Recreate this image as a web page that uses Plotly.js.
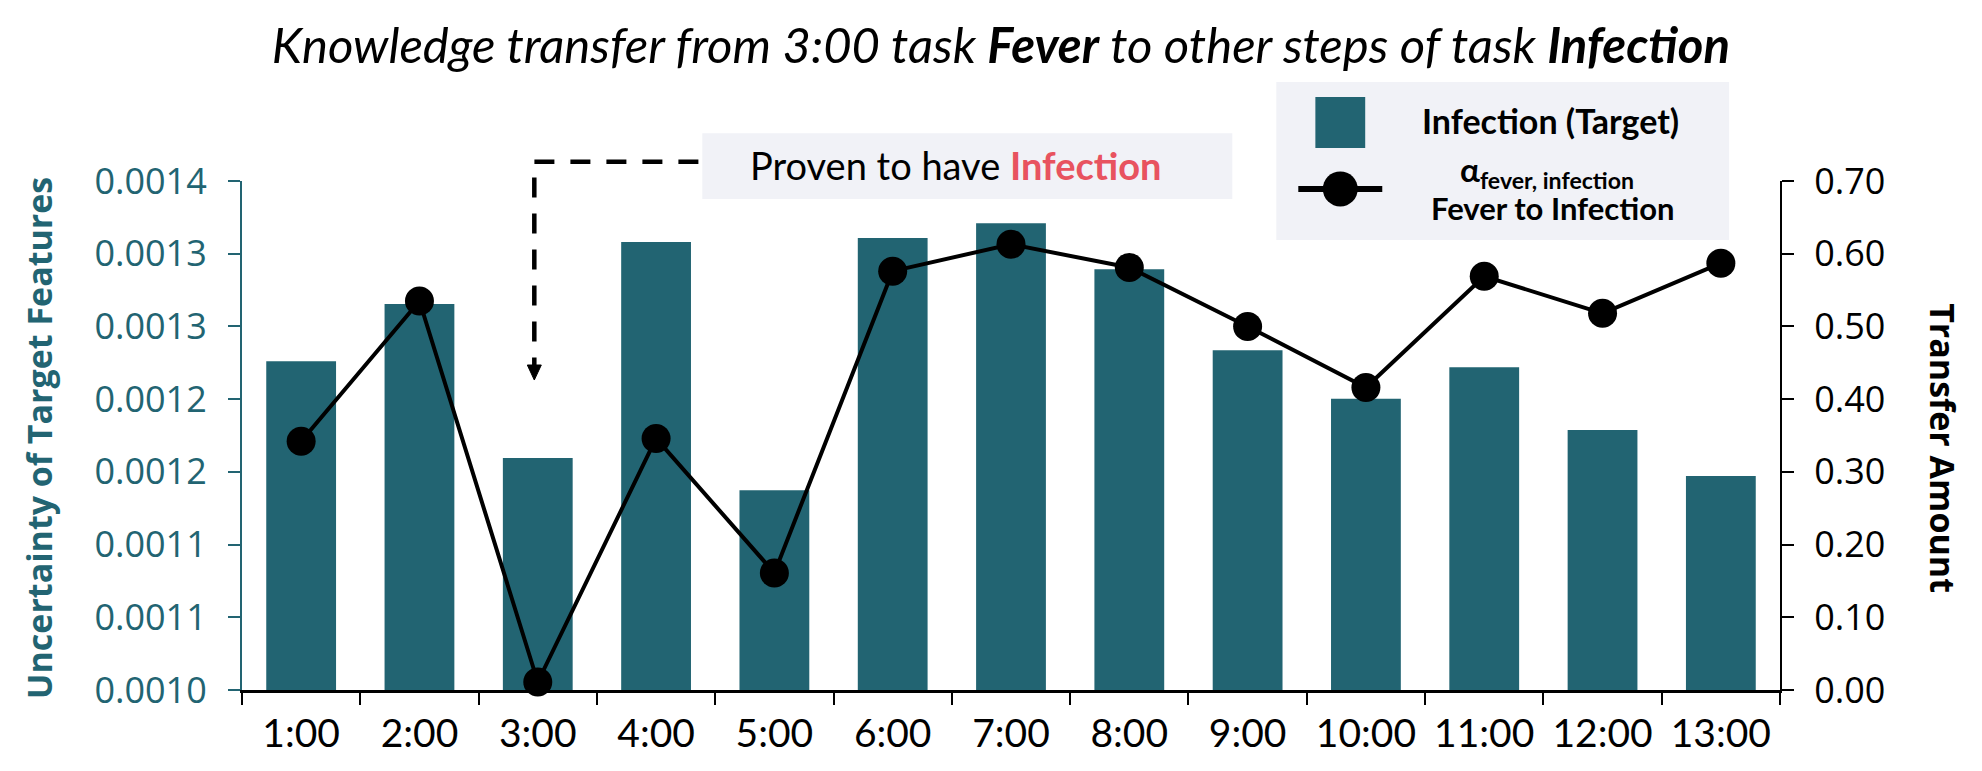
<!DOCTYPE html>
<html>
<head>
<meta charset="utf-8">
<script src="https://cdn.plot.ly/plotly-3.0.1.min.js"></script>
<style>html,body{margin:0;padding:0;background:#fff;}#chart{width:1982px;height:771px;}</style>
</head>
<body>
<div id="chart"></div>
<script>
// ---- data ----
const categories = ["1:00","2:00","3:00","4:00","5:00","6:00","7:00","8:00","9:00","10:00","11:00","12:00","13:00"];
const uncertainty = [0.001276, 0.0013155, 0.0012095, 0.001358, 0.0011874, 0.0013608, 0.001371, 0.0013394, 0.0012837, 0.0012502, 0.001272, 0.0012288, 0.0011972];
const transfer = [0.342, 0.535, 0.011, 0.346, 0.161, 0.576, 0.613, 0.581, 0.500, 0.416, 0.569, 0.518, 0.587];
const leftTickVals = [0.00105, 0.0011, 0.00115, 0.0012, 0.00125, 0.0013, 0.00135, 0.0014];
const leftTickText = ["0.0010","0.0011","0.0011","0.0012","0.0012","0.0013","0.0013","0.0014"];
const rightTickVals = [0, 0.1, 0.2, 0.3, 0.4, 0.5, 0.6, 0.7];

const TEAL = "#226472";
const RED = "#E8535F";
const PANEL = "#F1F2F7";
const calibri = "Lato, 'Open Sans', sans-serif";
const segoe = "'Open Sans', 'Noto Sans', sans-serif";

const traces = [
  {
    type: "bar", x: categories, y: uncertainty, yaxis: "y",
    name: "Infection (Target)", marker: {color: TEAL}, showlegend: false,
    hoverinfo: "x+y"
  },
  {
    type: "scatter", mode: "lines+markers", x: categories, y: transfer, yaxis: "y2",
    name: "Fever to Infection", line: {color: "#000", width: 4},
    marker: {color: "#000", size: 29}, showlegend: false, cliponaxis: false
  }
];

const layout = {
  width: 1982, height: 771,
  margin: {l: 242, r: 202, t: 181, b: 81},
  paper_bgcolor: "#fff", plot_bgcolor: "#fff",
  bargap: 0.41,
  title: {
    text: "<i>Knowledge transfer from 3:00 task <b>Fever</b> to other steps of task <b>Infection</b></i>",
    font: {family: calibri, size: 49, color: "#000"},
    x: 0.505, xanchor: "center", xref: "container",
    y: 0.94, yanchor: "middle", yref: "container"
  },
  xaxis: {
    type: "category", range: [-0.5, 12.5],
    showline: true, linecolor: "#000", linewidth: 2.5,
    ticks: "outside", tickson: "boundaries", ticklen: 12, tickwidth: 2, tickcolor: "#000",
    tickfont: {family: calibri, size: 39, color: "#000"},
    showgrid: false, zeroline: false, ticklabelstandoff: 8
  },
  yaxis: {
    range: [0.00105, 0.0014], tickvals: leftTickVals, ticktext: leftTickText,
    showline: true, linecolor: TEAL, linewidth: 2,
    ticks: "outside", ticklen: 12, tickwidth: 2, tickcolor: TEAL,
    tickfont: {family: segoe, size: 36, color: TEAL},
    showgrid: false, zeroline: false, ticklabelstandoff: 14
  },
  yaxis2: {
    overlaying: "y", side: "right", range: [0, 0.7], tickvals: rightTickVals, tickformat: ".2f",
    showline: true, linecolor: "#000", linewidth: 2,
    ticks: "outside", ticklen: 12, tickwidth: 2, tickcolor: "#000",
    tickfont: {family: segoe, size: 36, color: "#000"},
    showgrid: false, zeroline: false, ticklabelstandoff: 13
  },
  shapes: [
    // legend panel
    {type: "rect", xref: "paper", yref: "paper", x0: 0.6725, x1: 0.9669, y0: 0.8841, y1: 1.1945,
     fillcolor: PANEL, line: {width: 0}, layer: "below"},
    {type: "rect", xref: "paper", yref: "paper", x0: 0.6979, x1: 0.7303, y0: 1.0648, y1: 1.165,
     fillcolor: TEAL, line: {width: 0}},
    {type: "line", xref: "paper", yref: "paper", x0: 0.6868, x1: 0.7414, y0: 0.9843, y1: 0.9843,
     line: {color: "#000", width: 6}},
    {type: "circle", xref: "paper", yref: "paper", x0: 0.7141 - 0.01137, x1: 0.7141 + 0.01137,
     y0: 0.9843 - 0.03438, y1: 0.9843 + 0.03438, fillcolor: "#000", line: {width: 0}},
    // annotation panel
    {type: "rect", xref: "paper", yref: "paper", x0: 0.2993, x1: 0.6439, y0: 0.9646, y1: 1.0937,
     fillcolor: PANEL, line: {width: 0}, layer: "below"},
    // dashed pointer
    {type: "path", xref: "paper", yref: "paper",
     path: "M 0.29675 1.0379 L 0.19006 1.0379 L 0.19006 0.6385",
     line: {color: "#000", width: 4.5, dash: "20px,16px"}},
    {type: "path", xref: "paper", yref: "paper",
     path: "M 0.18551 0.6385 L 0.19461 0.6385 L 0.19006 0.609 Z",
     fillcolor: "#000", line: {color: "#000", width: 1}}
  ],
  annotations: [
    {xref: "paper", yref: "paper", x: -0.1319, y: 0.495, xanchor: "center", yanchor: "middle",
     textangle: -90, showarrow: false,
     text: "<b>Uncertainty of Target Features</b>", font: {family: segoe, size: 34, color: TEAL}},
    {xref: "paper", yref: "paper", x: 1.1059, y: 0.4754, xanchor: "center", yanchor: "middle",
     textangle: 90, showarrow: false,
     text: "<b>Transfer Amount</b>", font: {family: segoe, size: 34, color: "#000"}},
    {xref: "paper", yref: "paper", x: 0.4639, y: 1.0324, xanchor: "center", yanchor: "middle",
     showarrow: false,
     text: "Proven to have <b><span style='color:" + RED + "'>Infection</span></b>",
     font: {family: calibri, size: 38, color: "#000"}},
    {xref: "paper", yref: "paper", x: 0.8506, y: 1.118, xanchor: "center", yanchor: "middle",
     showarrow: false, text: "<b>Infection (Target)</b>", font: {family: calibri, size: 34, color: "#000"}},
    {xref: "paper", yref: "paper", x: 0.8485, y: 1.0177, xanchor: "center", yanchor: "middle",
     showarrow: false, text: "<b>α<sub>fever, infection</sub></b>", font: {family: calibri, size: 33, color: "#000"}},
    {xref: "paper", yref: "paper", x: 0.8525, y: 0.946, xanchor: "center", yanchor: "middle",
     showarrow: false, text: "<b>Fever to Infection</b>", font: {family: calibri, size: 31, color: "#000"}}
  ]
};

Plotly.newPlot("chart", traces, layout, {displayModeBar: false, staticPlot: true});
</script>
</body>
</html>
